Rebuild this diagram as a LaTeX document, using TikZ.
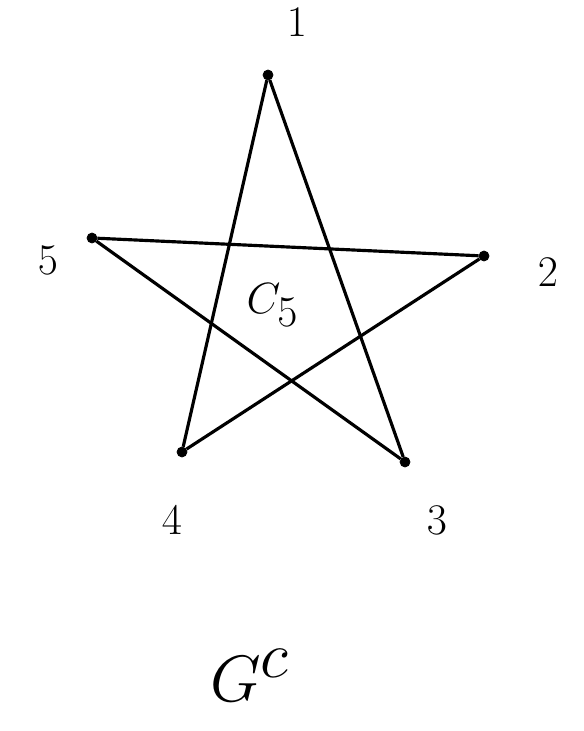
\documentclass[tikz,border=0pt]{standalone}
\usepackage{amsmath}
\usepackage{tikz}

\begin{document}
\begin{tikzpicture}[
	vert/.style={circle,draw,fill,inner sep=0pt,minimum size=0.2cm},
	lbl/.style={font=\fontsize{34}{40}\selectfont},
	edge/.style={line width=1.8pt}]
	\useasboundingbox (0,0) rectangle (11.66,-14.62);
	\node[vert](v1) at (5.36,-1.5){};
	\node[vert](v2) at (9.68,-5.12){};
	\node[vert](v3) at (8.1,-9.24){};
	\node[vert](v4) at (3.64,-9.04){};
	\node[vert](v5) at (1.84,-4.76){};
	
	\draw[edge]  (v1)--(v3);
	\draw[edge]  (v1)--(v4);
	\draw[edge]  (v5)--(v2);
	\draw[edge]  (v5)--(v3);
	\draw[edge]  (v4)--(v2);
	
	\node[lbl](l1) at (5.94,-0.45){$1$};
	\node[lbl](l2) at (10.96,-5.44){$2$};
	\node[lbl](l3) at (8.74,-10.4){$3$};
	\node[lbl](l4) at (3.44,-10.4){$4$};
	\node[lbl](l5) at (0.96,-5.2){$5$};
	\node[lbl](C5) at (5.45,-6.1){$C_5$};
	\node[lbl,scale=1.5](Gc) at (5.0,-13.5){$G^c$};
	\end{tikzpicture}
\end{document}
